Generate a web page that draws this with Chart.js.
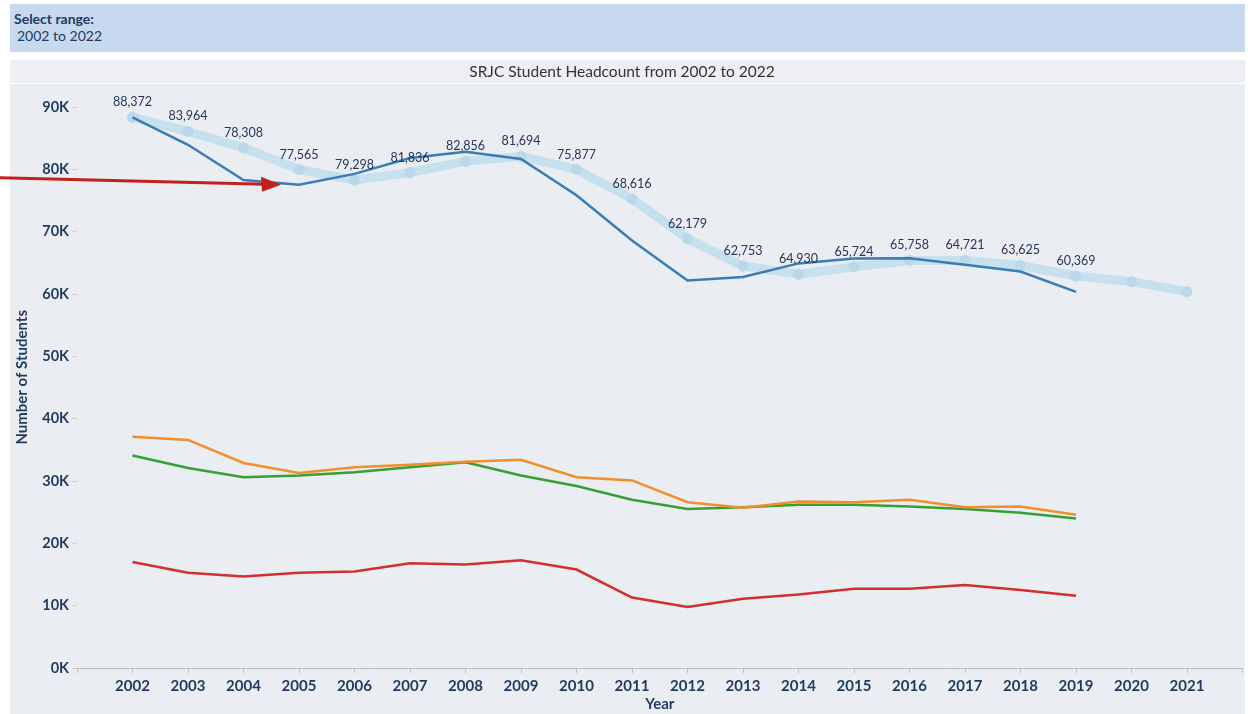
<!DOCTYPE html>
<html>
<head>
<meta charset="utf-8">
<script src="https://cdn.jsdelivr.net/npm/chart.js@4/dist/chart.umd.min.js"></script>
<style>
  html,body{margin:0;padding:0;background:#fff;width:1248px;height:714px;overflow:hidden;font-family:Lato,"Open Sans",sans-serif;}
  #hdr{position:absolute;left:10px;top:4px;width:1235px;height:48px;background:#c6d9ee;color:#1f3a5f;}
  #hdr .l1{position:absolute;left:4px;top:6px;font-size:14px;font-weight:bold;}
  #hdr .l2{position:absolute;left:7px;top:23px;font-size:14px;}
  #wrap{position:absolute;left:0;top:60px;width:1248px;height:654px;}
</style>
</head>
<body>
<div id="hdr"><div class="l1">Select range:</div><div class="l2">2002 to 2022</div></div>
<div id="wrap"><canvas id="c" width="1248" height="654"></canvas></div>
<script>
// ---- data ----
const years = [2002,2003,2004,2005,2006,2007,2008,2009,2010,2011,2012,2013,2014,2015,2016,2017,2018,2019,2020,2021];
const headcount = [88372,83964,78308,77565,79298,81836,82856,81694,75877,68616,62179,62753,64930,65724,65758,64721,63625,60369];
const trend = [88370,86100,83500,80000,78300,79500,81300,82100,80000,75300,68900,64500,63200,64400,65400,65400,64600,62900,62000,60400];
const orangeSeries = [37100,36600,32900,31300,32200,32600,33100,33400,30600,30100,26600,25700,26700,26600,27000,25800,25900,24600];
const greenSeries = [34100,32100,30600,30900,31400,32200,33000,30900,29200,27000,25500,25800,26200,26200,25900,25500,24900,24000];
const redSeries = [17000,15300,14700,15300,15500,16800,16600,17300,15800,11300,9800,11100,11800,12700,12700,13300,12500,11600];
const yTicks = [0,10000,20000,30000,40000,50000,60000,70000,80000,90000];
const titleText = 'SRJC Student Headcount from 2002 to 2022';

const pts = arr => arr.map((v,i)=>({x: years[i], y: v}));
const navy = '#1f3a5f';

const bgPlugin = {
  id:'bg',
  beforeDraw(chart){
    const ctx = chart.ctx;
    ctx.save();
    ctx.fillStyle='#ffffff'; ctx.fillRect(0,0,chart.width,chart.height);
    ctx.fillStyle='#edeff2'; ctx.fillRect(10,0,1235,23);
    ctx.fillStyle='#eaedf1'; ctx.fillRect(10,24,1235,chart.height-24);
    ctx.restore();
  }
};

const labelPlugin = {
  id:'vlabels',
  afterDatasetsDraw(chart){
    const ctx = chart.ctx;
    const meta = chart.getDatasetMeta(1);
    ctx.save();
    ctx.font = '12.5px Lato, "Open Sans", sans-serif';
    ctx.fillStyle = '#25365a';
    ctx.textAlign='center'; ctx.textBaseline='middle';
    headcount.forEach((v,i)=>{
      const p = meta.data[i];
      ctx.fillText(v.toLocaleString('en-US'), p.x, p.y-15);
    });
    // annotation arrow pointing at the 2005 headcount point
    const dm = chart.getDatasetMeta(0).data[3];
    const tipX = dm.x-18, tipY = dm.y;
    ctx.strokeStyle='#c1211d'; ctx.fillStyle='#c1211d'; ctx.lineWidth=3;
    ctx.beginPath(); ctx.moveTo(0, tipY-7); ctx.lineTo(tipX-16, tipY-0.5); ctx.stroke();
    ctx.beginPath(); ctx.moveTo(tipX, tipY); ctx.lineTo(tipX-20, tipY-8); ctx.lineTo(tipX-19, tipY+7); ctx.closePath(); ctx.fill();
    ctx.restore();
  }
};

new Chart(document.getElementById('c'), {
  type:'line',
  data:{
    datasets:[
      {data: pts(headcount), borderColor:'#3a7db5', borderWidth:2.5, pointRadius:0, tension:0},
      {data: pts(trend), borderColor:'rgba(196,223,237,0.95)', borderWidth:9, borderCapStyle:'round', borderJoinStyle:'round', pointRadius:5.5, pointBackgroundColor:'#b9d8ea', pointBorderWidth:0, tension:0},
      {data: pts(orangeSeries), borderColor:'#f28e2b', borderWidth:2.5, pointRadius:0},
      {data: pts(greenSeries), borderColor:'#36a035', borderWidth:2.5, pointRadius:0},
      {data: pts(redSeries), borderColor:'#d0302f', borderWidth:2.5, pointRadius:0}
    ]
  },
  options:{
    responsive:false, animation:false, devicePixelRatio:1,
    layout:{padding:{left:0,right:4,top:0,bottom:0}},
    plugins:{
      legend:{display:false}, tooltip:{enabled:false},
      title:{display:true, text:titleText, color:'#333', font:{family:'Lato', size:15.5, weight:'normal'}, padding:{top:3,bottom:5}}
    },
    scales:{
      x:{type:'linear', min:2001, max:2022,
        afterBuildTicks(s){ s.ticks = years.concat([2001,2022]).sort().map(v=>({value:v})); },
        afterFit(s){ s.height = 46; },
        ticks:{autoSkip:false, maxRotation:0, color:navy, padding:4, font:{family:'Lato', size:15, weight:'bold'},
          callback:(v)=> years.includes(v) ? String(v) : ''},
        grid:{color:'rgba(0,0,0,0.025)', tickColor:'#c4c4c4', tickLength:5},
        border:{display:true, color:'#bdbdbd', dash:[2,2], width:1},
        title:{display:true, text:'Year', color:navy, font:{family:'Lato', size:15, weight:'bold'}, padding:{top:0,bottom:1}}
      },
      y:{min:0, max:93300,
        afterBuildTicks(s){ s.ticks = yTicks.map(v=>({value:v})); },
        afterFit(s){ s.width = 77; },
        ticks:{color:navy, padding:3, font:{family:'Lato', size:14.5, weight:'bold'}, callback:(v)=> (v/1000)+'K'},
        grid:{drawOnChartArea:false, tickColor:'#cfcfcf', tickLength:5},
        border:{display:false},
        title:{display:true, text:'Number of Students', color:navy, font:{family:'Lato', size:15, weight:'bold'}, padding:{top:13,bottom:0}}
      }
    }
  },
  plugins:[bgPlugin, labelPlugin]
});
</script>
</body>
</html>
